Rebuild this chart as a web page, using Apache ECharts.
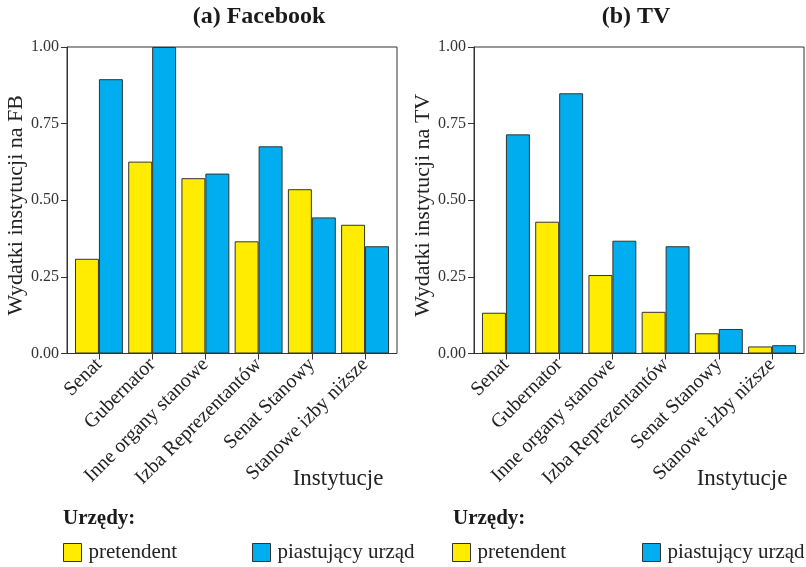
<!DOCTYPE html>
<html>
<head>
<meta charset="utf-8">
<script src="https://cdn.jsdelivr.net/npm/echarts@6/dist/echarts.min.js"></script>
<style>
html,body{margin:0;padding:0;background:#fff;}
#chart{width:806px;height:567px;}
</style>
</head>
<body>
<div id="chart"></div>
<script>
const categories = ['Senat', 'Gubernator', 'Inne organy stanowe', 'Izba Reprezentantów', 'Senat Stanowy', 'Stanowe izby niższe'];
const fbPretendent = [0.309, 0.626, 0.572, 0.366, 0.536, 0.420];
const fbPiastujacy = [0.895, 1.000, 0.587, 0.676, 0.444, 0.350];
const tvPretendent = [0.133, 0.430, 0.256, 0.136, 0.066, 0.023];
const tvPiastujacy = [0.715, 0.849, 0.368, 0.350, 0.080, 0.027];
const seriesNames = ['pretendent', 'piastujący urząd'];
const panelTitles = ['(a) Facebook', '(b) TV'];
const yTitles = ['Wydatki instytucji na FB', 'Wydatki instytucji na TV'];
const xTitle = 'Instytucje';
const legendTitle = 'Urzędy:';

const SERIF = '"Liberation Serif", "DejaVu Serif", serif';
const YELLOW = '#FFEC00';
const BLUE = '#00AEEF';
const EDGE = '#333333';

const gTop = 47, gHeight = 306.5;
const frames = [67, 474];
const fw = 330;
const band = fw / 6.2;
const mainInset = (fw - band * 6) / 2;

const grids = [], xAxes = [], yAxes = [], series = [];
const data = [[fbPretendent, fbPiastujacy], [tvPretendent, tvPiastujacy]];

for (let p = 0; p < 2; p++) {
  grids.push({left: frames[p], top: gTop, width: fw, height: gHeight, show: true,
    borderColor: EDGE, borderWidth: 1, backgroundColor: 'transparent'});
  grids.push({left: frames[p] + mainInset, top: gTop, width: band * 6, height: gHeight});
  const fi = p * 2, mi = p * 2 + 1;
  xAxes.push({gridIndex: fi, type: 'value', min: 0, max: 1, show: false});
  xAxes.push({gridIndex: mi, type: 'category', data: categories,
    axisLine: {show: false},
    axisTick: {show: true, alignWithLabel: true, length: 6, lineStyle: {color: EDGE}},
    axisLabel: {interval: 0, rotate: 45, margin: 8, fontFamily: SERIF, fontSize: 20, color: '#222'}
  });
  yAxes.push({gridIndex: fi, type: 'value', min: 0, max: 1, interval: 0.25,
    axisLine: {show: true, lineStyle: {color: EDGE}},
    axisTick: {show: true, length: 6, lineStyle: {color: EDGE}},
    splitLine: {show: false},
    axisLabel: {formatter: v => v.toFixed(2), fontFamily: SERIF, fontSize: 16, color: '#333', margin: 8},
    name: yTitles[p], nameLocation: 'middle', nameGap: 38, nameRotate: 90,
    nameTextStyle: {fontFamily: SERIF, fontSize: 22, color: '#222', padding: [0, 10, 0, 0]}
  });
  yAxes.push({gridIndex: mi, type: 'value', min: 0, max: 1, show: false});
  const cols = [YELLOW, BLUE];
  for (let s = 0; s < 2; s++) {
    series.push({type: 'bar', name: seriesNames[s], xAxisIndex: mi, yAxisIndex: mi,
      data: data[p][s], barWidth: '45%', barGap: '0%',
      itemStyle: {color: cols[s], borderColor: EDGE, borderWidth: 1},
      emphasis: {disabled: true}, animation: false});
  }
}

const legendPos = [[63, 542, 0], [252, 542, 1], [452, 542, 0], [642, 542, 1]];
const legends = legendPos.map(([l, t, s]) => ({
  left: l, top: t, data: [seriesNames[s]], itemWidth: 18, itemHeight: 18, padding: 0,
  icon: 'rect', selectedMode: false,
  itemStyle: {borderColor: EDGE, borderWidth: 1},
  textStyle: {fontFamily: SERIF, fontSize: 21, color: '#222', padding: [0, 0, 0, 2]}
}));

const graphic = [
  {type: 'text', x: 259, y: 5, style: {text: panelTitles[0], font: 'bold 24px ' + SERIF, align: 'center', verticalAlign: 'top', fill: '#1a1a1a'}},
  {type: 'text', x: 636, y: 5, style: {text: panelTitles[1], font: 'bold 24px ' + SERIF, align: 'center', verticalAlign: 'top', fill: '#1a1a1a'}},
  {type: 'text', x: 338, y: 467, style: {text: xTitle, font: '23px ' + SERIF, align: 'center', verticalAlign: 'top', fill: '#222'}},
  {type: 'text', x: 742, y: 467, style: {text: xTitle, font: '23px ' + SERIF, align: 'center', verticalAlign: 'top', fill: '#222'}},
  {type: 'text', x: 63, y: 508, style: {text: legendTitle, font: 'bold 21px ' + SERIF, align: 'left', verticalAlign: 'top', fill: '#1a1a1a'}},
  {type: 'text', x: 453, y: 508, style: {text: legendTitle, font: 'bold 21px ' + SERIF, align: 'left', verticalAlign: 'top', fill: '#1a1a1a'}}
];

const chart = echarts.init(document.getElementById('chart'), null, {renderer: 'canvas'});
chart.setOption({
  animation: false,
  backgroundColor: '#ffffff',
  grid: grids, xAxis: xAxes, yAxis: yAxes, series: series,
  legend: legends, graphic: graphic
});
</script>
</body>
</html>
